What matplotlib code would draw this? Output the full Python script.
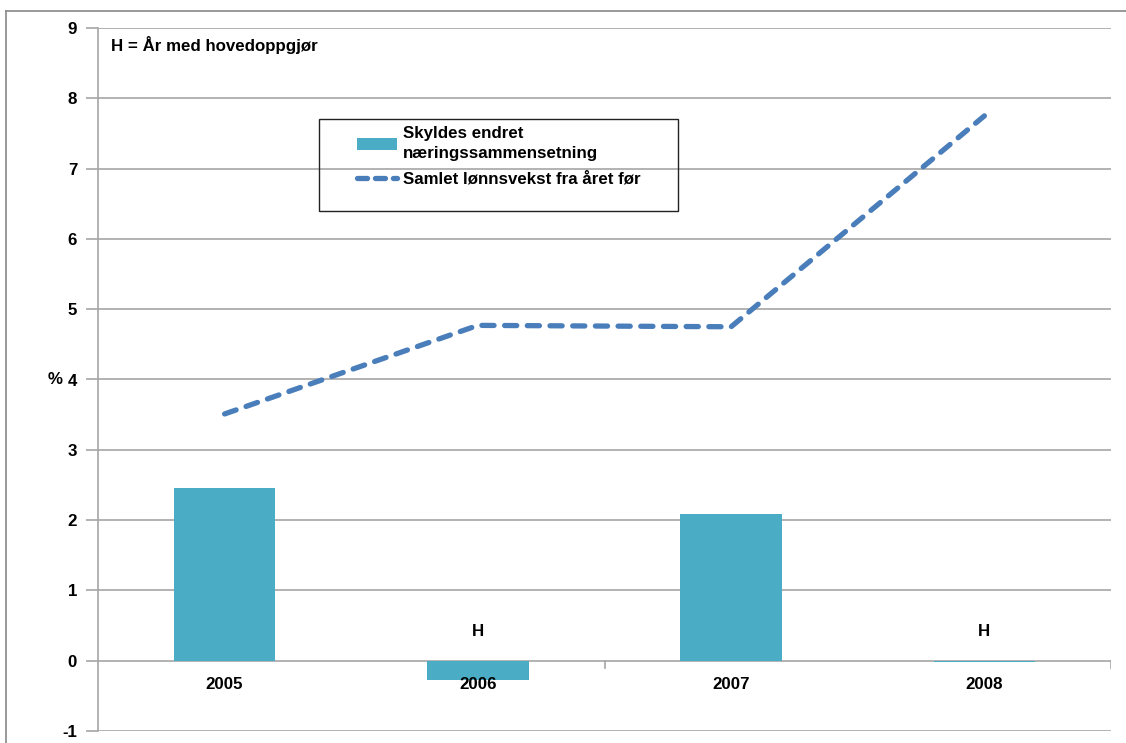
import matplotlib.pyplot as plt
from matplotlib.lines import Line2D
from matplotlib.patches import Rectangle, Patch

years = ['2005', '2006', '2007', '2008']
naering = [2.45, -0.28, 2.08, -0.02]
lonnsvekst = [3.51, 4.77, 4.75, 7.75]
hovedoppgjor = [False, True, False, True]

plt.rcParams['font.family'] = ['Liberation Sans', 'DejaVu Sans']
plt.rcParams['font.weight'] = 'bold'
plt.rcParams['axes.unicode_minus'] = False

W, H = 1126, 743
FS = 12.2
fig = plt.figure(figsize=(W / 100, H / 100), dpi=100)
ax = fig.add_axes([98 / W, 1 - 731 / H, (1111 - 98) / W, (731 - 28) / H])

bar_col = '#4bacc6'
line_col = '#4a7ebb'
grid_col = '#a6a6a6'

x = list(range(len(years)))
ax.bar(x, naering, width=0.4, color=bar_col, zorder=2)
ax.plot(x, lonnsvekst, color=line_col, lw=3.8, dashes=(2.3, 2.0),
        dash_capstyle='round', zorder=3)

ax.set_xlim(-0.5, 3.5)
ax.set_ylim(-1, 9)
ax.set_yticks(range(-1, 10))
ax.set_xticks([])
for v in range(-1, 10):
    ax.axhline(v, color=grid_col, lw=1.2, zorder=1)

for s in ['top', 'right', 'bottom']:
    ax.spines[s].set_visible(False)
ax.spines['left'].set_color(grid_col)
ax.spines['left'].set_linewidth(1.2)
ax.tick_params(axis='y', length=9, color=grid_col, width=1.2, labelsize=FS, pad=6)
for lab in ax.get_yticklabels():
    lab.set_fontweight('bold')

# small category separator ticks below the zero line
for b in [1.5, 3.5]:
    ax.plot([b, b], [0, -0.1], color=grid_col, lw=1.2, zorder=1)

for i, yr in enumerate(years):
    ax.text(i, -0.34, yr, ha='center', va='center', fontsize=FS, fontweight='bold')
    if hovedoppgjor[i]:
        ax.text(i, 0.42, 'H', ha='center', va='center', fontsize=FS, fontweight='bold')

ax.text(-0.45, 8.76, 'H = År med hovedoppgjør', ha='left', va='center',
        fontsize=FS, fontweight='bold')
ax.text(-0.67, 4.0, '%', ha='center', va='center', fontsize=FS, fontweight='bold')

# legend
handles = [Patch(facecolor=bar_col, edgecolor='none'),
           Line2D([0], [0], color=line_col, lw=3.8, dashes=(1.9, 1.5), dash_capstyle='round')]
labels = ['Skyldes endret\nnæringssammensetning', 'Samlet lønnsvekst fra året før']
leg = fig.legend(handles, labels, loc='upper left', bbox_to_anchor=(349 / W, 1 - 118 / H),
                 frameon=False, prop={'size': FS, 'weight': 'bold'},
                 handlelength=2.35, handleheight=0.7, handletextpad=0.35,
                 labelspacing=0.65, borderpad=0)
for t in leg.get_texts():
    t.set_linespacing(1.35)
fig.patches.append(Rectangle((319 / W, 1 - 211 / H), (678 - 319) / W, (211 - 119) / H,
                             transform=fig.transFigure, fill=False,
                             edgecolor='#222222', lw=1.0))

# outer chart frame
fig.add_artist(Line2D([6 / W, 1], [1 - 11 / H, 1 - 11 / H], color='#888888', lw=1.2))
fig.add_artist(Line2D([6 / W, 6 / W], [0, 1 - 11 / H], color='#888888', lw=1.2))

fig.savefig('out.png', dpi=100)
